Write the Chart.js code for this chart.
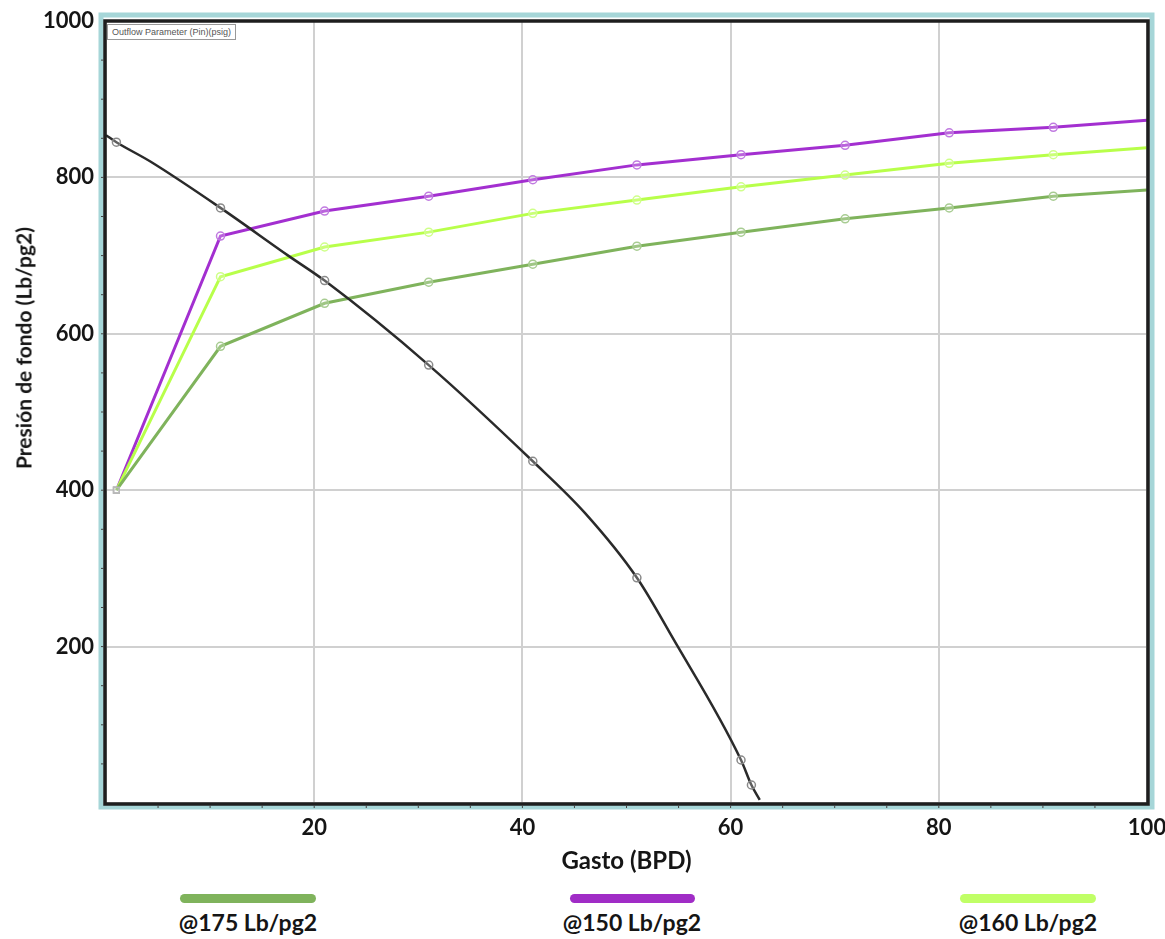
<!DOCTYPE html>
<html>
<head>
<meta charset="utf-8">
<script src="https://cdn.jsdelivr.net/npm/chart.js@4"></script>
<style>
  body { margin: 0; background: #fff; font-family: Lato, "Open Sans", sans-serif; }
  #wrap { position: relative; width: 1165px; height: 939px; }
  #box { position: absolute; left: 0; top: 0; width: 1165px; height: 880px; }
  .ytitle { position: absolute; left: 23px; top: 348px; transform: translate(-50%, -50%) rotate(-90deg);
    font-weight: bold; font-size: 21px; color: #151515; white-space: nowrap; }
  .tag { position: absolute; left: 107px; top: 24px; font-size: 9px; color: #555; border: 1px solid #999;
    background: #fff; padding: 2px 4px; white-space: nowrap; font-family: "Liberation Sans", sans-serif; }
  .leg { position: absolute; top: 894px; text-align: center; font-weight: bold; font-size: 23px;
    line-height: 28px; color: #151515; white-space: nowrap; }
  .leg span { display: block; height: 9px; border-radius: 5px; margin: 0 auto 5px; }
</style>
</head>
<body>
<div id="wrap">
  <div id="box"><canvas id="chart" width="1165" height="880"></canvas></div>
  <div class="ytitle">Presión de fondo (Lb/pg2)</div>
  <div class="tag">Outflow Parameter (Pin)(psig)</div>
  <div class="leg" style="left:168px;width:160px"><span style="width:136px;background:#7fb35c"></span>@175 Lb/pg2</div>
  <div class="leg" style="left:552px;width:160px"><span style="width:125px;background:#a02cc6"></span>@150 Lb/pg2</div>
  <div class="leg" style="left:948px;width:160px"><span style="width:136px;background:#c0ff66"></span>@160 Lb/pg2</div>
</div>
<script>
// gasto (BPD) where the outflow curves have markers, last value is the end of the curve
const gasto = [1, 11, 21, 31, 41, 51, 61, 71, 81, 91, 100];
const p175 = [400, 584, 639, 666, 689, 712, 730, 747, 761, 776, 784];
const p150 = [400, 725, 757, 776, 797, 816, 829, 841, 857, 864, 873];
const p160 = [400, 673, 711, 730, 754, 771, 788, 803, 818, 829, 838];

// IPR curve (black)
const iprGasto = [0, 1, 4.3, 11, 17.5, 21, 31, 41, 46, 51, 54.4, 61, 62, 62.8];
const iprPres = [854, 845, 820, 761, 700, 668, 560, 437, 371, 288, 212, 55, 23, 4];
const iprMarcas = [1, 11, 21, 31, 41, 51, 61, 62];

const xTicks = [20, 40, 60, 80, 100];
const yTicks = [200, 400, 600, 800, 1000];

const pts = (xs, ys) => xs.map((x, i) => ({x: x, y: ys[i]}));

function outflow(label, ys, color, mark) {
    return {
        label: label,
        data: pts(gasto, ys),
        borderColor: color,
        borderWidth: 3,
        tension: 0,
        pointStyle: c => c.dataIndex === 0 ? 'rect' : 'circle',
        pointRadius: c => c.dataIndex === gasto.length - 1 ? 0 : 4,
        pointBorderColor: c => c.dataIndex === 0 ? '#b8b8b8' : mark,
        pointBackgroundColor: 'rgba(255,255,255,0.25)',
        pointBorderWidth: 1.5
    };
}

const frame = {
    id: 'frame',
    afterDraw(chart) {
        const {ctx, chartArea: a} = chart;
        ctx.save();
        ctx.strokeStyle = '#a6d6d8';
        ctx.lineWidth = 5;
        ctx.strokeRect(a.left - 5, a.top - 6, a.right - a.left + 10, a.bottom - a.top + 10);
        ctx.strokeStyle = '#1e1e1e';
        ctx.lineWidth = 3.5;
        ctx.strokeRect(a.left - 1, a.top, a.right - a.left + 2, a.bottom - a.top + 1);
        // small marks on the axes
        const xs = chart.scales.x, ys = chart.scales.y;
        ctx.strokeStyle = '#444';
        ctx.lineWidth = 1;
        for (let v = 5; v < 100; v += 5) {
            const px = xs.getPixelForValue(v);
            ctx.beginPath(); ctx.moveTo(px, a.bottom + 2); ctx.lineTo(px, a.bottom + 5); ctx.stroke();
        }
        for (let v = 50; v < 1000; v += 50) {
            const py = ys.getPixelForValue(v);
            ctx.beginPath(); ctx.moveTo(a.left - 2, py); ctx.lineTo(a.left - 5, py); ctx.stroke();
        }
        ctx.restore();
    }
};

new Chart(document.getElementById('chart'), {
    type: 'line',
    data: {
        datasets: [
            {
                label: 'IPR',
                data: pts(iprGasto, iprPres),
                borderColor: '#2a2a2a',
                borderWidth: 2.5,
                cubicInterpolationMode: 'monotone',
                pointRadius: c => iprMarcas.includes(iprGasto[c.dataIndex]) ? 4 : 0,
                pointBorderColor: '#8a8a8a',
                pointBackgroundColor: 'rgba(255,255,255,0.25)',
                pointBorderWidth: 1.5
            },
            outflow('@175 Lb/pg2', p175, '#7fb35c', '#a8cc92'),
            outflow('@160 Lb/pg2', p160, '#b8ff4a', '#cfff8a'),
            outflow('@150 Lb/pg2', p150, '#a32fd0', '#c07ae0')
        ]
    },
    options: {
        responsive: false,
        animation: false,
        layout: { padding: { top: 21, right: 18, left: 0, bottom: 0 } },
        plugins: { legend: { display: false }, tooltip: { enabled: false } },
        scales: {
            x: {
                type: 'linear',
                min: 0, max: 100,
                afterBuildTicks: s => { s.ticks = [0].concat(xTicks).map(v => ({value: v})); },
                afterFit: s => { s.height = 77; s.paddingLeft = 0; s.paddingRight = 0; },
                grid: { color: '#d0d0d0', lineWidth: 2, drawTicks: false },
                border: { display: false },
                ticks: {
                    padding: 12,
                    color: '#151515',
                    font: { family: 'Lato', size: 22, weight: 'bold' },
                    callback: v => v === 0 ? '' : v,
                    maxRotation: 0
                },
                title: {
                    display: true,
                    text: 'Gasto (BPD)',
                    color: '#151515',
                    font: { family: 'Lato', size: 24, weight: 'bold' },
                    padding: { top: 0, bottom: 4 }
                }
            },
            y: {
                min: 0, max: 1000,
                afterBuildTicks: s => { s.ticks = [0].concat(yTicks).map(v => ({value: v})); },
                afterFit: s => { s.width = 106; s.paddingTop = 0; s.paddingBottom = 0; },
                grid: { color: '#d0d0d0', lineWidth: 2, drawTicks: false },
                border: { display: false },
                ticks: {
                    padding: 12,
                    color: '#151515',
                    font: { family: 'Lato', size: 22, weight: 'bold' },
                    callback: v => v === 0 ? '' : v
                }
            }
        }
    },
    plugins: [frame]
});
</script>
</body>
</html>
